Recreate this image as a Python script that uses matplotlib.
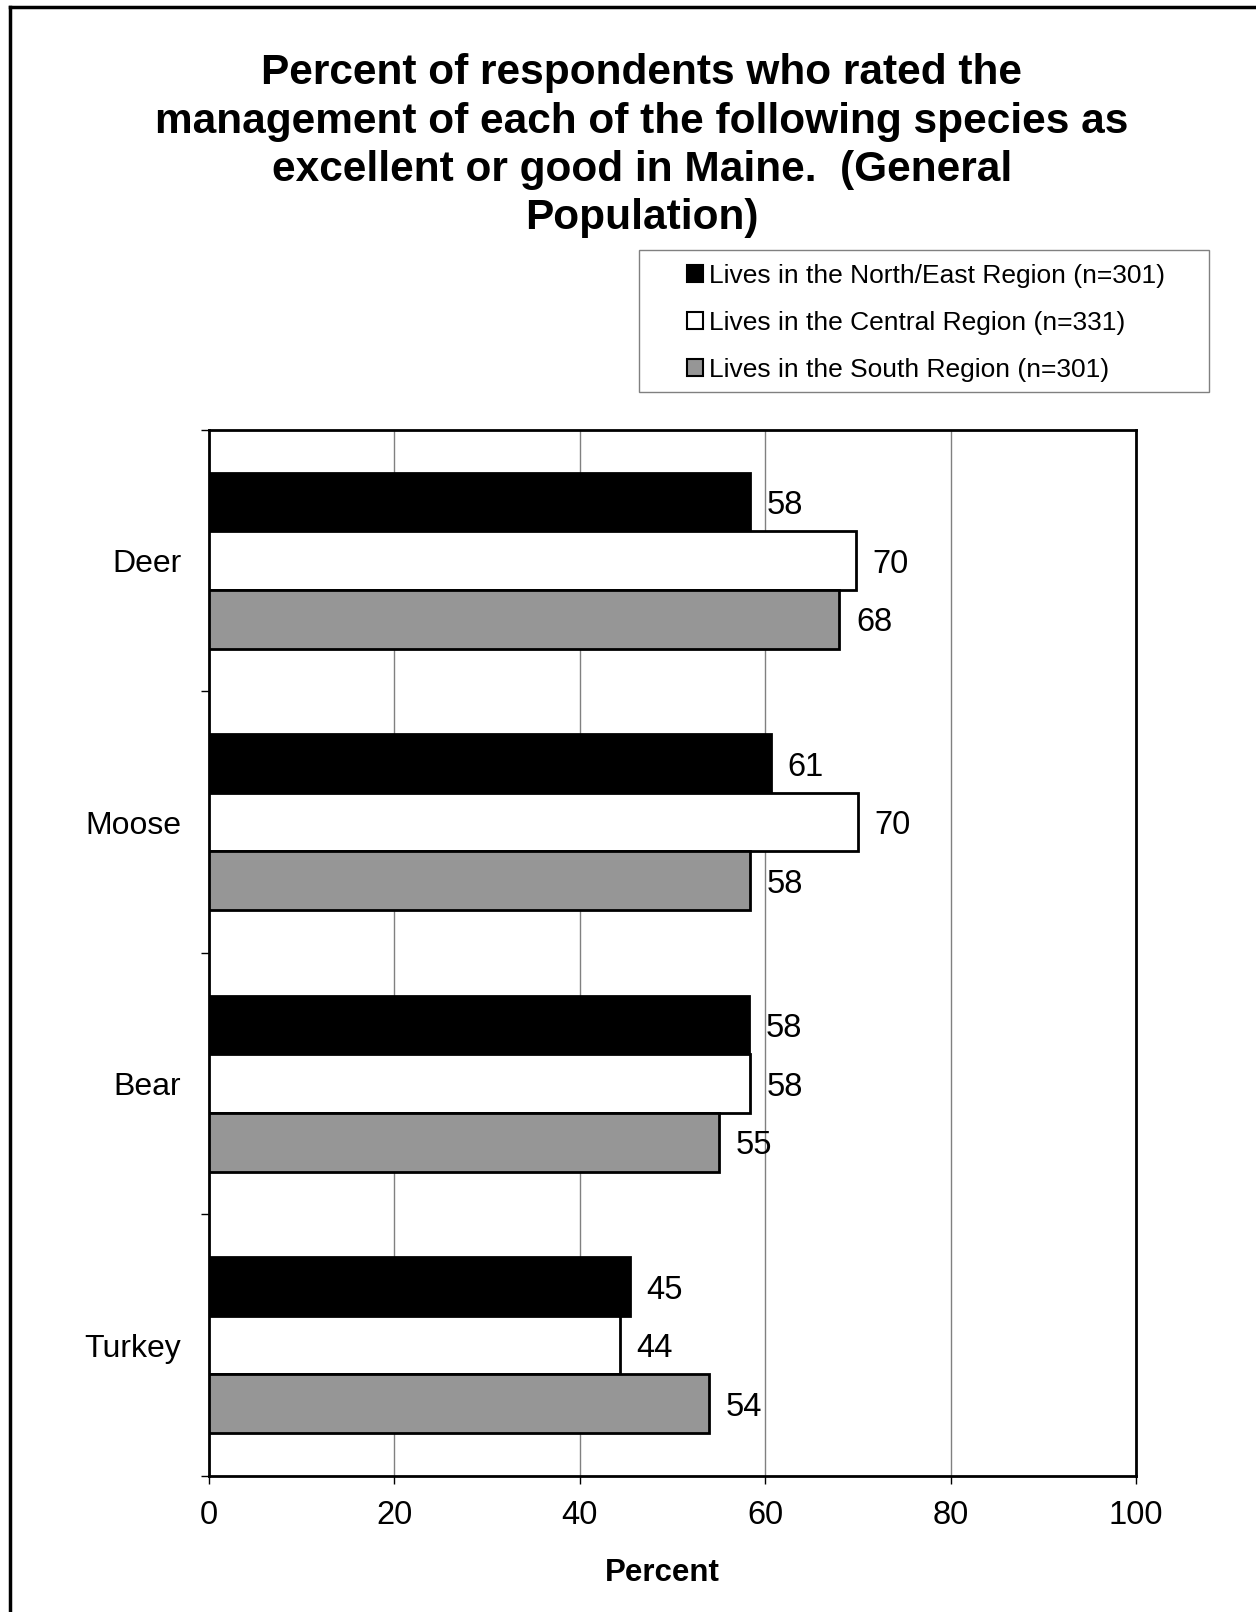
import matplotlib.pyplot as plt
import numpy as np
from matplotlib.lines import Line2D
from matplotlib.patches import Rectangle

plt.rcParams['font.family'] = ['Liberation Sans', 'DejaVu Sans']

species = ['Deer', 'Moose', 'Bear', 'Turkey']
series_names = ['Lives in the North/East Region (n=301)',
                'Lives in the Central Region (n=331)',
                'Lives in the South Region (n=301)']
north_east = [58.4, 60.6, 58.2, 45.4]
central = [69.8, 70.0, 58.4, 44.3]
south = [68.0, 58.4, 55.0, 53.9]
colors = ['black', 'white', '#969696']

W, H = 1256, 1612
fig = plt.figure(figsize = (W / 100, H / 100), dpi = 100)
ax = fig.add_axes([0.1664, 0.0844, 0.7381, 0.6489])

y = np.arange(len(species))
h = 0.224
offsets = [-h, 0, h]

for vals, off, col, name in zip([north_east, central, south], offsets, colors, series_names):
    bars = ax.barh(y + off, vals, height = h, color = col, edgecolor = 'black', linewidth = 2, label = name, zorder = 3)
    for b, v in zip(bars, vals):
        ax.annotate('%.0f' % v, (v, b.get_y() + b.get_height() / 2), xytext = (12, 0),
                    textcoords = 'offset points', va = 'center_baseline', ha = 'left', fontsize = 23.5)

ax.set_xlim(0, 100)
ax.set_ylim(len(species) - 0.5, -0.5)
ax.set_xticks(np.arange(0, 101, 20))
ax.tick_params(axis = 'x', labelsize = 23.5, length = 6, width = 1, pad = 11)
ax.set_yticks(y)
ax.set_yticklabels(species, fontsize = 23)
ax.tick_params(axis = 'y', length = 0, pad = 20)
ax.set_yticks(np.arange(-0.5, len(species)), minor = True)
ax.tick_params(axis = 'y', which = 'minor', length = 6, width = 1)
ax.xaxis.grid(True, color = '#808080', linewidth = 1, zorder = 0)
for s in ax.spines.values():
    s.set_linewidth(2)
ax.set_xlabel('Percent', fontsize = 22.5, fontweight = 'bold', labelpad = 20, x = 0.489)

fig.text(0.511, 0.967,
         'Percent of respondents who rated the\nmanagement of each of the following species as\n'
         'excellent or good in Maine.  (General\nPopulation)',
         ha = 'center', va = 'top', fontsize = 30.5, fontweight = 'bold', linespacing = 1.27)

# legend box drawn by hand (wide left margin like the original)
fig.add_artist(Rectangle((639 / W, 1 - 392 / H), 570 / W, 142 / H, transform = fig.transFigure,
                         facecolor = 'white', edgecolor = '#808080', linewidth = 1))
leg = fig.legend(loc = 'upper left', bbox_to_anchor = (687 / W, 1 - 264 / H), fontsize = 19,
                 handlelength = 0.6, handleheight = 0.6, handletextpad = 0.25,
                 labelspacing = 0.87, borderpad = 0, borderaxespad = 0, frameon = False)
for p in leg.get_patches():
    p.set_linewidth(1.5)

# outer border (top and left only)
fig.add_artist(Line2D([10 / W, 1], [1 - 7 / H, 1 - 7 / H], color = 'black', linewidth = 2.5))
fig.add_artist(Line2D([10 / W, 10 / W], [0, 1 - 7 / H], color = 'black', linewidth = 2.5))

fig.savefig('out.png', dpi = 100)
